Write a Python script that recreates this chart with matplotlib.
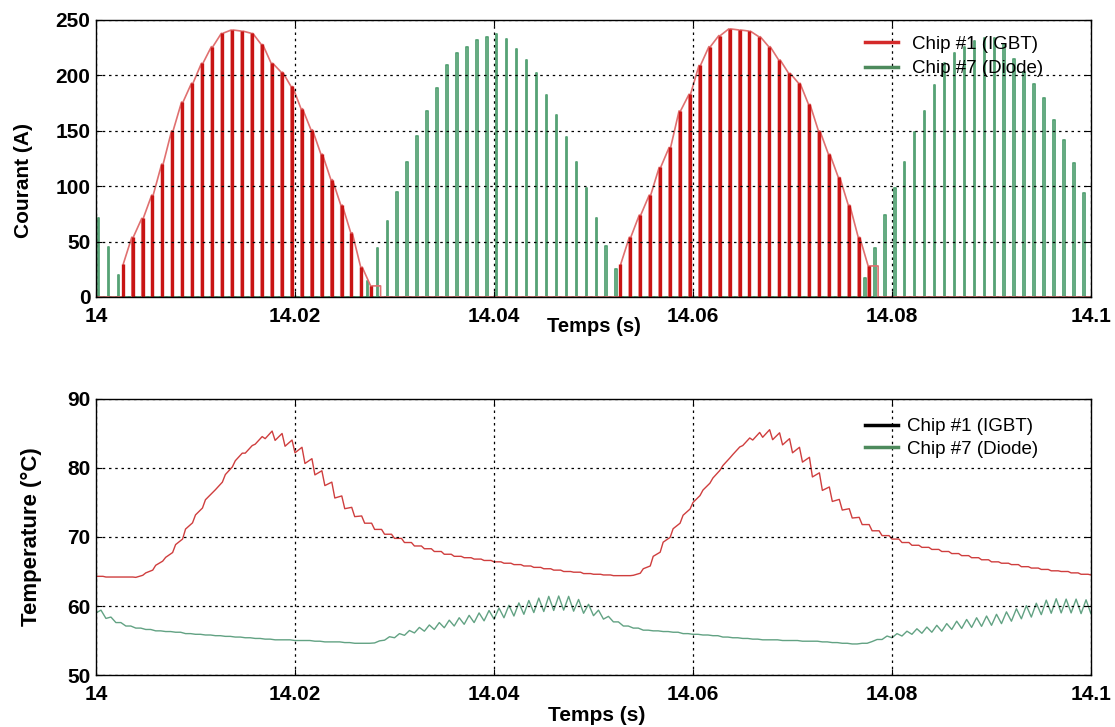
import matplotlib
matplotlib.use('Agg')
import matplotlib.pyplot as plt
from matplotlib.lines import Line2D
import numpy as np

# PWM switching period (s)
pwm_period = 0.001

# Chip #1 (IGBT) current: peak of each switching pulse, one list per half wave (A)
igbt_starts = [14.0026, 14.0526]
igbt_peaks = [
    [30, 54, 71, 92, 120, 150, 176, 193, 211, 226, 238, 241, 240,
     238, 228, 211, 203, 190, 170, 151, 129, 106, 83, 58, 27, 10],
    [30, 54, 74, 92, 117, 135, 168, 183, 209, 226, 236, 242, 241,
     240, 235, 226, 214, 202, 193, 174, 150, 129, 108, 83, 54, 28],
]

# Chip #7 (Diode) current: peak of each switching pulse (A)
diode_starts = [14.0002, 14.0272, 14.0772]
diode_peaks = [
    [71, 45, 20],
    [14, 44, 69, 95, 122, 145, 168, 189, 209, 220, 226, 232, 235,
     237, 233, 224, 214, 202, 182, 164, 144, 122, 98, 71, 46, 25],
    [17, 44, 74, 98, 122, 149, 168, 191, 211, 220, 226, 231, 234,
     234, 228, 215, 203, 192, 180, 160, 142, 121, 94, 72],
]

# junction temperatures sampled every ms from 14.000 s to 14.100 s (degC)
temp_time = np.linspace(14.0, 14.1, 101)
igbt_temp = [
    64.3, 64.2, 64.2, 64.2, 64.3, 65.0, 66.2, 67.4, 69.3, 71.6,
    73.7, 75.9, 77.4, 79.6, 81.6, 82.7, 84.0, 84.8, 84.5, 83.6,
    82.6, 81.0, 79.3, 77.7, 75.8, 74.2, 73.0, 72.0, 71.1, 70.4,
    69.8, 69.2, 68.7, 68.3, 67.9, 67.5, 67.2, 67.0, 66.8, 66.6,
    66.4, 66.2, 66.0, 65.8, 65.6, 65.4, 65.2, 65.0, 64.9, 64.7,
    64.6, 64.5, 64.4, 64.4, 64.6, 65.6, 67.5, 69.6, 71.6, 73.6,
    75.5, 77.3, 79.1, 80.9, 82.5, 83.8, 84.6, 85.0, 84.6, 83.8,
    82.6, 81.2, 79.0, 77.0, 75.3, 74.0, 72.8, 71.8, 70.9, 70.2,
    69.7, 69.2, 68.8, 68.5, 68.2, 67.9, 67.6, 67.3, 67.0, 66.7,
    66.4, 66.2, 66.0, 65.7, 65.5, 65.3, 65.1, 65.0, 64.8, 64.6,
    64.5,
]
igbt_ripple = [
    0, 0, 0, 0, 0.3, 0.4, 0.6, 0.7, 0.8, 0.9,
    1.0, 1.0, 1.1, 1.1, 1.1, 1.1, 1.1, 1.1, 1.0, 0.9,
    0.8, 0.7, 0.6, 0.5, 0.3, 0.2, 0.1, 0, 0, 0,
    0, 0, 0, 0, 0, 0, 0, 0, 0, 0,
    0, 0, 0, 0, 0, 0, 0, 0, 0, 0,
    0, 0, 0, 0, 0.3, 0.4, 0.6, 0.7, 0.8, 0.9,
    1.0, 1.0, 1.1, 1.1, 1.1, 1.1, 1.1, 1.1, 1.0, 0.9,
    0.8, 0.7, 0.6, 0.5, 0.3, 0.2, 0.1, 0, 0, 0,
    0, 0, 0, 0, 0, 0, 0, 0, 0, 0,
    0, 0, 0, 0, 0, 0, 0, 0, 0, 0,
    0,
]
diode_temp = [
    59.2, 58.3, 57.6, 57.1, 56.8, 56.6, 56.4, 56.3, 56.2, 56.0,
    55.9, 55.8, 55.7, 55.6, 55.5, 55.4, 55.3, 55.2, 55.1, 55.1,
    55.0, 55.0, 54.9, 54.8, 54.8, 54.7, 54.6, 54.6, 54.8, 55.3,
    55.7, 56.1, 56.5, 56.8, 57.1, 57.4, 57.7, 58.0, 58.3, 58.6,
    58.9, 59.2, 59.5, 59.8, 60.1, 60.3, 60.4, 60.4, 60.1, 59.6,
    59.0, 58.3, 57.7, 57.1, 56.8, 56.5, 56.4, 56.3, 56.2, 56.0,
    55.9, 55.8, 55.7, 55.5, 55.4, 55.3, 55.2, 55.1, 55.1, 55.0,
    55.0, 54.9, 54.9, 54.8, 54.7, 54.6, 54.5, 54.6, 55.0, 55.4,
    55.7, 56.0, 56.3, 56.5, 56.7, 56.9, 57.2, 57.4, 57.6, 57.8,
    58.0, 58.3, 58.7, 59.1, 59.4, 59.8, 60.0, 60.0, 60.0, 59.9,
    59.8,
]
diode_ripple = [
    0.4, 0.2, 0, 0, 0, 0, 0, 0, 0, 0,
    0, 0, 0, 0, 0, 0, 0, 0, 0, 0,
    0, 0, 0, 0, 0, 0, 0, 0, 0.3, 0.5,
    0.6, 0.7, 0.8, 0.9, 1.0, 1.1, 1.2, 1.3, 1.4, 1.5,
    1.6, 1.8, 1.9, 2.0, 2.1, 2.2, 2.1, 2.0, 1.7, 1.3,
    0.8, 0.4, 0, 0, 0, 0, 0, 0, 0, 0,
    0, 0, 0, 0, 0, 0, 0, 0, 0, 0,
    0, 0, 0, 0, 0, 0, 0, 0, 0.3, 0.5,
    0.6, 0.7, 0.8, 0.9, 1.0, 1.1, 1.2, 1.3, 1.4, 1.5,
    1.6, 1.7, 1.8, 1.9, 2.0, 2.1, 2.1, 2.0, 2.0, 2.0,
    1.9,
]

xticks = [14, 14.02, 14.04, 14.06, 14.08, 14.1]
xtick_labels = ['14', '14.02', '14.04', '14.06', '14.08', '14.1']

RED_DARK = '#c81414'
RED_LIGHT = '#e07070'
GREEN = '#56a275'
RED_T = '#cf3e3e'
GREEN_T = '#62a283'
igbt_gap = 0.00015
diode_width = 0.00015


def igbt_wave(start, peaks):
    # IGBT is on most of the period, drops to zero at each switching instant
    xs, ys = [], []
    for k, p in enumerate(peaks):
        t = start + k * pwm_period
        nxt = peaks[k + 1] if k + 1 < len(peaks) else p
        xs += [t, t + igbt_gap, t + igbt_gap, t + pwm_period]
        ys += [0, 0, p, nxt]
    xs.append(xs[-1])
    ys.append(0)
    return xs, ys


def diode_wave(start, peaks):
    xs, ys = [], []
    for k, p in enumerate(peaks):
        t = start + k * pwm_period
        xs += [t, t, t + diode_width, t + diode_width]
        ys += [0, p, p, 0]
    return xs, ys


def join(starts, peaks, wave):
    xs, ys = [13.99], [0]
    for s, p in zip(starts, peaks):
        x, y = wave(s, p)
        xs += x
        ys += y
    xs.append(14.11)
    ys.append(0)
    return xs, ys


def ripple_line(values, ripple, rise):
    xs, ys = [], []
    for t, v, r in zip(temp_time, values, ripple):
        xs += [t, t + rise]
        ys += [v - r / 2, v + r / 2]
    return xs, ys


def style_axes(ax, xpad):
    ax.set_xlim(14, 14.1)
    ax.set_xticks(xticks)
    ax.set_xticklabels(xtick_labels)
    ax.set_axisbelow(False)
    ax.grid(True, color='black', linestyle=(0, (2, 3)), linewidth=0.9)
    ax.tick_params(direction='in', length=4, top=True, right=True,
                   labelsize=15, width=0.8)
    ax.tick_params(axis='x', pad=xpad)
    ax.tick_params(axis='y', pad=4)
    for lab in ax.get_xticklabels() + ax.get_yticklabels():
        lab.set_fontweight('bold')
    for sp in ax.spines.values():
        sp.set_linewidth(1.0)


plt.rcParams['font.family'] = ['Liberation Sans', 'DejaVu Sans']

fig = plt.figure(figsize=(11.15, 7.27), dpi=100)
ax1 = fig.add_axes([0.0861, 0.5915, 0.8924, 0.381])
ax2 = fig.add_axes([0.0861, 0.0715, 0.8924, 0.3797])

# current
dx, dy = join(diode_starts, diode_peaks, diode_wave)
ix, iy = join(igbt_starts, igbt_peaks, igbt_wave)
ax1.plot(dx, dy, color=GREEN, linewidth=1.3)
ax1.plot(ix, iy, color=RED_LIGHT, linewidth=1.2)
for s, p in zip(igbt_starts, igbt_peaks):
    # the switching edges show up as dark strokes
    t = s + np.arange(len(p)) * pwm_period + igbt_gap / 2
    ax1.vlines(t, 0, p, color=RED_DARK, linewidth=2.4)
ax1.set_ylim(0, 250)
ax1.set_yticks([0, 50, 100, 150, 200, 250])
style_axes(ax1, 7)
ax1.set_xlabel('Temps (s)', fontsize=14.5, fontweight='bold')
ax1.xaxis.set_label_coords(0.5, -0.072)
ax1.set_ylabel('Courant (A)', fontsize=15, fontweight='bold')
ax1.yaxis.set_label_coords(-0.063, 0.42)
h1 = [Line2D([], [], color='#d42a2a', linewidth=2.5),
      Line2D([], [], color='#4d8a5c', linewidth=2.5)]
ax1.legend(h1, ['Chip #1 (IGBT)', 'Chip #7 (Diode)'], loc='upper left',
           bbox_to_anchor=(0.773, 0.943), frameon=False, fontsize=13.5,
           borderpad=0, borderaxespad=0, handlelength=1.76,
           handletextpad=0.75, labelspacing=0.38)

# temperature
gx, gy = ripple_line(diode_temp, diode_ripple, 0.0005)
rx, ry = ripple_line(igbt_temp, igbt_ripple, 0.0007)
ax2.plot(gx, gy, color=GREEN_T, linewidth=1.0)
ax2.plot(rx, ry, color=RED_T, linewidth=1.0)
ax2.set_ylim(50, 90)
ax2.set_yticks([50, 60, 70, 80, 90])
style_axes(ax2, 7)
ax2.set_xlabel('Temps (s)', fontsize=15, fontweight='bold')
ax2.xaxis.set_label_coords(0.503, -0.112)
ax2.set_ylabel('Temperature (\u00b0C)', fontsize=16, fontweight='bold')
ax2.yaxis.set_label_coords(-0.054, 0.5)
h2 = [Line2D([], [], color='black', linewidth=2.5),
      Line2D([], [], color='#4d8a5c', linewidth=2.5)]
ax2.legend(h2, ['Chip #1 (IGBT)', 'Chip #7 (Diode)'], loc='upper left',
           bbox_to_anchor=(0.773, 0.93), frameon=False, fontsize=13.5,
           borderpad=0, borderaxespad=0, handlelength=1.76,
           handletextpad=0.48, labelspacing=0.27)

fig.savefig('out.png', dpi=100)
